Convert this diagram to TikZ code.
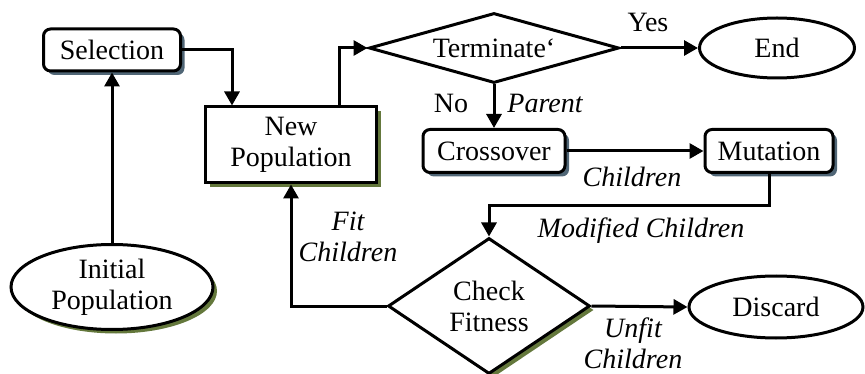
\documentclass[tikz,border=0pt]{standalone}
\usepackage{fontspec}
\setmainfont{Liberation Serif}
\newfontfamily\tms{Liberation Serif}
\usetikzlibrary{shapes.geometric,shadows,arrows.meta}
\definecolor{slate}{RGB}{80,102,118}
\definecolor{olive}{RGB}{100,120,60}
\tikzset{
  every node/.style={font=\tms},
  arr/.style={line width=3pt,-{Triangle[length=14pt,width=15pt]}},
  rbox/.style={draw,line width=3pt,fill=white,rounded corners=7pt,inner sep=0pt,
    drop shadow={shadow xshift=4pt,shadow yshift=-4pt,fill=slate,opacity=1}},
  gshadow/.style={drop shadow={shadow xshift=4pt,shadow yshift=-4pt,fill=olive,opacity=1}},
  lbl/.style={font=\tms\itshape,align=center,inner sep=1pt}
}
\begin{document}
\fontsize{28}{31}\selectfont
\begin{tikzpicture}[x=1pt,y=-1pt]
\useasboundingbox (0,0) rectangle (865,374);
% boxes
\node[rbox,minimum width=137,minimum height=42] (sel) at (112,50) {Selection};
\node[draw,line width=3pt,fill=white,gshadow,minimum width=171,minimum height=76,align=center,inner sep=0pt] (newpop) at (291,145) {New\\Population};
\node[draw,line width=3pt,fill=white,diamond,aspect=3.6,inner sep=0pt,minimum width=250,minimum height=70] (term) at (494,48) {Terminate‘};
\node[draw,line width=3pt,ellipse,minimum width=155,minimum height=60,inner sep=0pt] (end) at (777,48) {End};
\node[rbox,minimum width=142,minimum height=43] (cross) at (494,151) {Crossover};
\node[rbox,minimum width=128,minimum height=43] (mut) at (769,151) {Mutation};
\node[draw,line width=3pt,fill=white,diamond,aspect=1.5,gshadow,inner sep=0pt,minimum width=202,minimum height=136,align=center] (chk) at (489,306) {Check\\Fitness};
\node[draw,line width=3pt,ellipse,minimum width=174,minimum height=62,inner sep=0pt] (disc) at (776,307) {Discard};
\node[draw,line width=3pt,fill=white,ellipse,gshadow,minimum width=202,minimum height=85,inner sep=0pt,align=center] (ini) at (112,287) {Initial\\Population};
% labels
\node (yes) at (648,22) {Yes};
\node (no) at (451,103) {No};
\node[lbl] (par) at (545,103) {Parent};
\node[lbl] (chl) at (632,177) {Children};
\node[lbl] (mod) at (641,231) {Modified Children};
\node[lbl] (fit) at (348,237) {Fit\\Children};
\node[lbl] (unfit) at (633,343) {Unfit\\Children};
% connectors
\draw[arr] (ini.north) -- (sel.south);
\draw[arr] (sel.east) -| ([xshift=-59pt]newpop.north);
\draw[arr] ([xshift=48pt]newpop.north) |- (term.west);
\draw[arr] (term.east) -- (end.west);
\draw[arr] (term.south) -- (cross.north);
\draw[arr] (cross.east) -- (mut.west);
\draw[arr] (mut.south) -- ++(0,32) -| (chk.north);
\draw[arr] (chk.west) -| (newpop.south);
\draw[arr] (chk.east) -- (disc.west);
\end{tikzpicture}
\end{document}
